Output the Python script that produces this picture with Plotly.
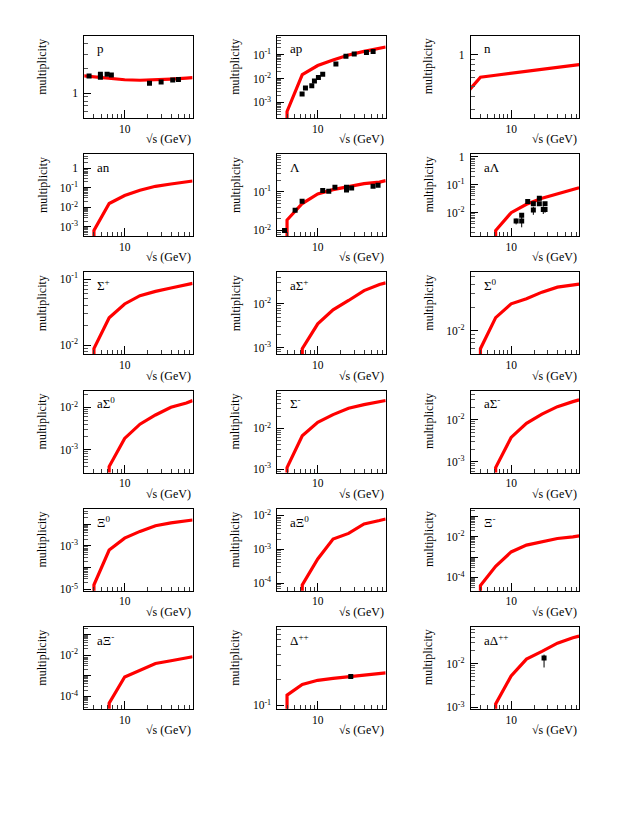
import math
import plotly.graph_objects as go

W, H = 638, 825
FONT = "Liberation Serif, Times New Roman, DejaVu Serif, serif"

# ---------------- data ----------------
panel_names = ["p", "ap", "n", "an", "Λ", "aΛ",
               "Σ<sup>+</sup>", "aΣ<sup>+</sup>", "Σ<sup>0</sup>",
               "aΣ<sup>0</sup>", "Σ<sup>-</sup>", "aΣ<sup>-</sup>",
               "Ξ<sup>0</sup>", "aΞ<sup>0</sup>", "Ξ<sup>-</sup>",
               "aΞ<sup>-</sup>", "Δ<sup>++</sup>", "aΔ<sup>++</sup>"]

sqrt_s_range = [3.0, 76.0]
sqrt_s_ticks = [10]
sqrt_s_tick_labels = ["10"]

# model curves (x = sqrt(s) in GeV, y = multiplicity)
p_model_x = [2.5, 4.0, 6.3, 10.0, 15.8, 25.1, 39.8, 63.1, 76.0]
p_model_y = [1.66, 1.59, 1.52, 1.46, 1.44, 1.45, 1.49, 1.53, 1.55]
ap_model_x = [4.0, 4.0, 6.3, 10.0, 15.8, 25.1, 39.8, 63.1, 76.0]
ap_model_y = [1e-9, 4.2e-4, 1.45e-2, 3.5e-2, 6.0e-2, 9.7e-2, 0.137, 0.18, 0.21]
n_model_x = [2.5, 4.0, 6.3, 10.0, 15.8, 25.1, 39.8, 63.1, 76.0]
n_model_y = [0.41, 0.608, 0.635, 0.664, 0.693, 0.724, 0.757, 0.79, 0.80]
an_model_x = [4.0, 4.0, 6.3, 10.0, 15.8, 25.1, 39.8, 63.1, 76.0]
an_model_y = [1e-9, 6.6e-4, 1.56e-2, 0.04, 0.074, 0.118, 0.155, 0.195, 0.22]
lam_model_x = [4.0, 4.0, 6.3, 10.0, 15.8, 25.1, 39.8, 63.1, 76.0]
lam_model_y = [1e-9, 0.0186, 0.05, 0.089, 0.115, 0.14, 0.165, 0.181, 0.197]
alam_model_x = [6.3, 6.3, 10.0, 15.8, 25.1, 39.8, 63.1, 76.0]
alam_model_y = [1e-9, 2.3e-3, 0.01, 0.02, 0.033, 0.048, 0.069, 0.079]
sigp_model_x = [4.0, 4.0, 6.3, 10.0, 15.8, 25.1, 39.8, 63.1, 76.0]
sigp_model_y = [1e-9, 8.9e-3, 0.026, 0.042, 0.056, 0.065, 0.073, 0.082, 0.086]
asigp_model_x = [6.3, 6.3, 10.0, 15.8, 25.1, 39.8, 63.1, 76.0]
asigp_model_y = [1e-9, 9.5e-4, 3.5e-3, 7.3e-3, 0.0119, 0.020, 0.0275, 0.030]
sig0_model_x = [4.0, 4.0, 6.3, 10.0, 15.8, 25.1, 39.8, 63.1, 76.0]
sig0_model_y = [1e-9, 5.9e-3, 0.0148, 0.0223, 0.0259, 0.0315, 0.0365, 0.0394, 0.040]
asig0_model_x = [6.3, 6.3, 10.0, 15.8, 25.1, 39.8, 63.1, 76.0]
asig0_model_y = [1e-9, 4.0e-4, 1.85e-3, 4.0e-3, 6.6e-3, 0.01, 0.0127, 0.0144]
sigm_model_x = [4.0, 4.0, 6.3, 10.0, 15.8, 25.1, 39.8, 63.1, 76.0]
sigm_model_y = [1e-9, 1.1e-3, 6.6e-3, 0.014, 0.0217, 0.031, 0.038, 0.045, 0.048]
asigm_model_x = [6.3, 6.3, 10.0, 15.8, 25.1, 39.8, 63.1, 76.0]
asigm_model_y = [1e-9, 7.3e-4, 3.8e-3, 8.2e-3, 0.0136, 0.0204, 0.0268, 0.0295]
xi0_model_x = [4.0, 4.0, 6.3, 10.0, 15.8, 25.1, 39.8, 63.1, 76.0]
xi0_model_y = [1e-12, 1.6e-5, 6.5e-4, 2.3e-3, 4.7e-3, 8.6e-3, 0.0116, 0.0138, 0.0158]
axi0_model_x = [6.3, 6.3, 10.0, 15.8, 25.1, 39.8, 63.1, 76.0]
axi0_model_y = [1e-12, 8.9e-5, 5.2e-4, 2.0e-3, 2.95e-3, 5.6e-3, 7.1e-3, 7.9e-3]
xim_model_x = [4.0, 4.0, 6.3, 10.0, 15.8, 25.1, 39.8, 63.1, 76.0]
xim_model_y = [1e-12, 3.9e-5, 3.5e-4, 1.8e-3, 3.9e-3, 5.7e-3, 8.3e-3, 0.01, 0.0112]
axim_model_x = [6.3, 6.3, 10.0, 15.8, 25.1, 39.8, 63.1, 76.0]
axim_model_y = [1e-12, 4.7e-5, 8.6e-4, 1.8e-3, 3.9e-3, 5.3e-3, 7.1e-3, 8.3e-3]
dpp_model_x = [4.0, 4.0, 6.3, 10.0, 15.8, 25.1, 39.8, 63.1, 76.0]
dpp_model_y = [1e-9, 0.132, 0.177, 0.198, 0.209, 0.219, 0.229, 0.238, 0.242]
adpp_model_x = [6.3, 6.3, 10.0, 15.8, 25.1, 39.8, 63.1, 76.0]
adpp_model_y = [1e-9, 1.2e-3, 5.2e-3, 0.0126, 0.0189, 0.029, 0.0385, 0.042]

# measured points
p_data_x = [3.46, 4.85, 4.85, 5.92, 6.73, 21.0, 29.7, 42.0, 49.8]
p_data_y = [1.62, 1.71, 1.57, 1.71, 1.67, 1.32, 1.37, 1.45, 1.47]
ap_data_x = [6.27, 6.93, 8.37, 9.06, 10.2, 11.6, 17.2, 23.2, 29.7, 42.8, 52.2]
ap_data_y = [2.26e-3, 3.98e-3, 5.0e-3, 7.9e-3, 1.1e-2, 1.5e-2, 4.1e-2, 8.5e-2, 0.106, 0.124, 0.137]
lam_data_x = [3.71, 5.09, 6.27, 11.6, 13.9, 16.7, 23.6, 23.6, 27.5, 52.1, 60.5]
lam_data_y = [0.010, 0.0336, 0.0575, 0.109, 0.104, 0.132, 0.132, 0.113, 0.127, 0.140, 0.149]
alam_data_x = [11.6, 13.7, 13.7, 16.4, 19.4, 19.4, 23.2, 23.2, 26.1, 27.5, 27.5]
alam_data_y = [5.0e-3, 8.2e-3, 5.0e-3, 0.0255, 0.021, 0.0124, 0.0327, 0.021, 0.013, 0.021, 0.013]
alam_data_err_minus = [1.2e-3, 1.5e-3, 2.0e-3, 3.0e-3, 3.0e-3, 4.0e-3, 5.0e-3, 3.0e-3, 4.0e-3, 3.0e-3, 3.0e-3]
alam_data_err_plus = [1.2e-3, 1.5e-3, 2.0e-3, 3.0e-3, 3.0e-3, 4.0e-3, 5.0e-3, 3.0e-3, 4.0e-3, 3.0e-3, 3.0e-3]
dpp_data_x = [26.8]
dpp_data_y = [0.219]
dpp_data_err = [0.006]
adpp_data_x = [26.7]
adpp_data_y = [0.0133]
adpp_data_err_minus = [0.0052]
adpp_data_err_plus = [0.0026]

# y-axis ranges (multiplicity) and labelled decades
y_ranges = [
    [0.5, 5.0], [2.26e-4, 0.605], [0.25, 1.5],
    [3.4e-4, 5.1], [7.1e-3, 0.96], [1.45e-3, 1.25],
    [7.3e-3, 0.126], [7.1e-4, 0.052], [5.0e-3, 0.0566],
    [2.9e-4, 0.0248], [8.3e-4, 0.084], [5.6e-4, 0.049],
    [8.7e-6, 0.052], [6.0e-5, 0.0158], [2.2e-5, 0.245],
    [2.5e-5, 0.23], [0.091, 0.85], [9.3e-4, 0.068],
]
y_labelled_decades = [
    [0], [-1, -2, -3], [0],
    [0, -1, -2, -3], [-1, -2], [0, -1, -2],
    [-1, -2], [-2, -3], [-2],
    [-2, -3], [-2, -3], [-2, -3],
    [-3, -5], [-2, -3, -4], [-2, -4],
    [-2, -4], [-1], [-2, -3],
]

models = [
    (p_model_x, p_model_y), (ap_model_x, ap_model_y), (n_model_x, n_model_y),
    (an_model_x, an_model_y), (lam_model_x, lam_model_y), (alam_model_x, alam_model_y),
    (sigp_model_x, sigp_model_y), (asigp_model_x, asigp_model_y), (sig0_model_x, sig0_model_y),
    (asig0_model_x, asig0_model_y), (sigm_model_x, sigm_model_y), (asigm_model_x, asigm_model_y),
    (xi0_model_x, xi0_model_y), (axi0_model_x, axi0_model_y), (xim_model_x, xim_model_y),
    (axim_model_x, axim_model_y), (dpp_model_x, dpp_model_y), (adpp_model_x, adpp_model_y),
]
datasets = {
    0: (p_data_x, p_data_y, None, None),
    1: (ap_data_x, ap_data_y, None, None),
    4: (lam_data_x, lam_data_y, None, None),
    5: (alam_data_x, alam_data_y, alam_data_err_minus, alam_data_err_plus),
    16: (dpp_data_x, dpp_data_y, dpp_data_err, dpp_data_err),
    17: (adpp_data_x, adpp_data_y, adpp_data_err_minus, adpp_data_err_plus),
}

# ---------------- layout geometry (pixels) ----------------
col_left = [84.3, 277.4, 470.8]
frame_w = 108.3
row_top = [33.3, 152.7, 272.0, 391.4, 510.7, 630.0]
frame_h = 82.7


def fx(px):
    return px / W


def fy(py):
    return 1 - py / H


def decade_label(d):
    return "1" if d == 0 else "10<sup>%d</sup>" % d


fig = go.Figure()
layout = dict(width=W, height=H, margin=dict(l=0, r=0, t=0, b=0),
              paper_bgcolor="white", plot_bgcolor="white",
              showlegend=False, font=dict(family=FONT, color="black"))
annotations = []

x_minor = [4, 5, 6, 7, 8, 9, 20, 30, 40, 50, 60, 70]

for i in range(18):
    r, c = divmod(i, 3)
    left = col_left[c]
    right = left + frame_w
    top = row_top[r]
    bottom = top + frame_h
    k = "" if i == 0 else str(i + 1)
    xa, ya = "x" + k, "y" + k

    lo, hi = y_ranges[i]
    llo, lhi = math.log10(lo), math.log10(hi)
    majors, minors = [], []
    for d in range(math.floor(llo) - 1, math.ceil(lhi) + 1):
        if llo - 1e-9 <= d <= lhi + 1e-9:
            majors.append(10.0 ** d)
        for m in range(2, 10):
            v = m * 10.0 ** d
            if lo <= v <= hi:
                minors.append(v)
    labelled = y_labelled_decades[i]
    ticktext = []
    for v in majors:
        d = round(math.log10(v))
        ticktext.append(decade_label(d) if d in labelled else " ")

    layout["xaxis" + k] = dict(
        domain=[fx(left), fx(right)], anchor=ya, type="log",
        range=[math.log10(sqrt_s_range[0]), math.log10(sqrt_s_range[1])],
        tickmode="array", tickvals=sqrt_s_ticks, ticktext=sqrt_s_tick_labels,
        ticks="inside", ticklen=8, tickwidth=1, tickcolor="black",
        minor=dict(tickmode="array", tickvals=x_minor, ticks="inside",
                   ticklen=4, tickwidth=1, tickcolor="#333333", showgrid=False),
        showline=True, linecolor="black", linewidth=1, mirror=True,
        showgrid=False, zeroline=False,
        tickfont=dict(family=FONT, size=11.5, color="black"),
        ticklabelstandoff=0,
    )
    layout["yaxis" + k] = dict(
        domain=[fy(bottom), fy(top)], anchor=xa, type="log",
        range=[llo, lhi],
        tickmode="array", tickvals=majors, ticktext=ticktext,
        ticks="inside", ticklen=7, tickwidth=1, tickcolor="black",
        minor=dict(tickmode="array", tickvals=minors, ticks="inside",
                   ticklen=4, tickwidth=1, tickcolor="#555555", showgrid=False),
        showline=True, linecolor="black", linewidth=1, mirror=True,
        showgrid=False, zeroline=False,
        tickfont=dict(family=FONT, size=11.5, color="black"),
        ticklabelstandoff=3,
    )

    mx, my = models[i]
    fig.add_trace(go.Scatter(x=mx, y=my, mode="lines", xaxis=xa, yaxis=ya,
                             line=dict(color="#ff0000", width=3.2),
                             hoverinfo="skip"))
    if i in datasets:
        dx, dy, em, ep = datasets[i]
        err = None
        if em is not None:
            err = dict(type="data", symmetric=False, array=ep, arrayminus=em,
                       width=0, thickness=1, color="black")
        fig.add_trace(go.Scatter(x=dx, y=dy, mode="markers", xaxis=xa, yaxis=ya,
                                 marker=dict(symbol="square", size=5, color="black"),
                                 error_y=err, cliponaxis=True))

    annotations.append(dict(x=fx(left + 11), y=fy(top + 13), xref="paper", yref="paper",
                            text=panel_names[i], showarrow=False, xanchor="left",
                            yanchor="middle", font=dict(family=FONT, size=13, color="black")))
    annotations.append(dict(x=fx(left - 42), y=fy(top + 0.5), xref="paper", yref="paper",
                            text="multiplicity", showarrow=False, textangle=-90,
                            xanchor="center", yanchor="top",
                            font=dict(family=FONT, size=12, color="black")))
    annotations.append(dict(x=fx(right), y=fy(bottom + 21.5), xref="paper", yref="paper",
                            text="√s (GeV)", showarrow=False, xanchor="right",
                            yanchor="middle", font=dict(family=FONT, size=12, color="black")))

layout["annotations"] = annotations
fig.update_layout(**layout)
fig.write_html("out.html",
               config={"displayModeBar": False, "staticPlot": True},
               post_script="document.body.style.margin='0';document.body.style.padding='0';")
